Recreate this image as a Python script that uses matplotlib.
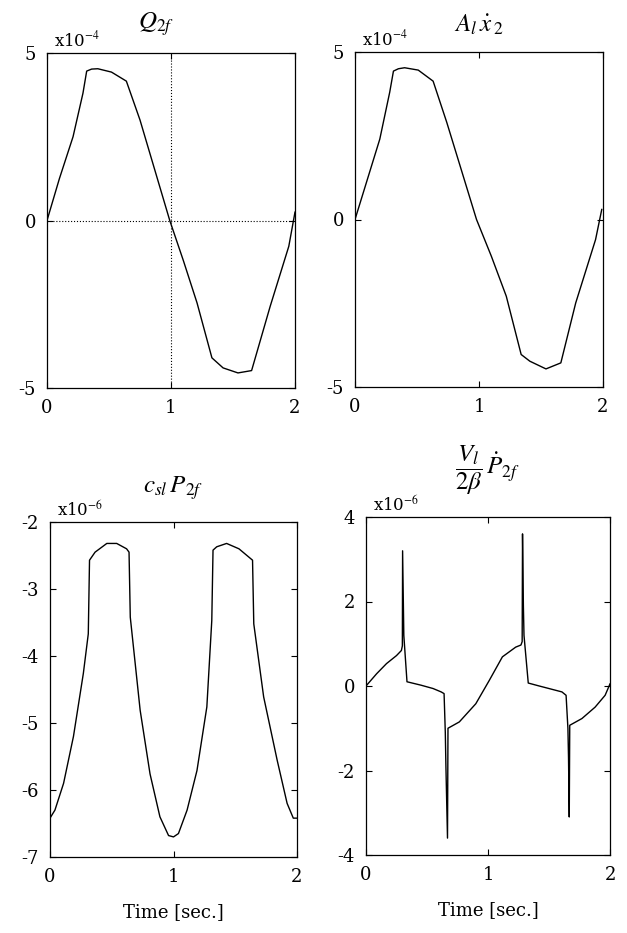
import matplotlib
matplotlib.use('Agg')
import matplotlib.pyplot as plt

plt.rcParams['font.family'] = 'DejaVu Serif'
plt.rcParams['mathtext.fontset'] = 'stix'
plt.rcParams['axes.unicode_minus'] = False

# Q_2f  (x1e-4)
t_q = [0.0, 0.1, 0.21, 0.29, 0.32, 0.36, 0.41, 0.52, 0.64, 0.75, 0.87, 0.99,
       1.1, 1.21, 1.33, 1.42, 1.54, 1.65, 1.8, 1.95, 2.0]
q2f = [0.0, 1.25, 2.5, 3.8, 4.46, 4.52, 4.53, 4.43, 4.16, 3.0, 1.5, 0.0,
       -1.2, -2.46, -4.1, -4.4, -4.55, -4.48, -2.56, -0.77, 0.25]

# A_l x2_dot  (x1e-4)
t_a = [0.0, 0.1, 0.2, 0.28, 0.31, 0.35, 0.40, 0.51, 0.63, 0.74, 0.86, 0.98,
       1.1, 1.22, 1.34, 1.41, 1.54, 1.66, 1.78, 1.94, 1.99]
ax2 = [0.0, 1.2, 2.4, 3.8, 4.43, 4.5, 4.53, 4.46, 4.13, 2.9, 1.45, 0.0,
       -1.1, -2.29, -4.03, -4.23, -4.46, -4.28, -2.49, -0.6, 0.3]

# c_sl P_2f  (x1e-6)
t_c = [0.0, 0.04, 0.11, 0.19, 0.27, 0.31, 0.32, 0.365, 0.46, 0.54, 0.62, 0.64,
       0.65, 0.73, 0.81, 0.89, 0.96, 1.0, 1.04, 1.11, 1.19, 1.27, 1.31, 1.32,
       1.35, 1.43, 1.53, 1.64, 1.65, 1.73, 1.84, 1.92, 1.97, 2.0]
cp2f = [-6.42, -6.3, -5.9, -5.2, -4.26, -3.67, -2.57, -2.45, -2.32, -2.32, -2.4, -2.45,
        -3.42, -4.81, -5.76, -6.4, -6.68, -6.7, -6.65, -6.3, -5.71, -4.76, -3.47, -2.42,
        -2.37, -2.32, -2.4, -2.57, -3.52, -4.61, -5.56, -6.2, -6.42, -6.42]

# V_l/(2 beta) P_2f_dot  (x1e-6)
t_v = [0.0, 0.087, 0.168, 0.25, 0.29, 0.298, 0.300, 0.31, 0.336, 0.45, 0.55, 0.616,
       0.64, 0.65, 0.655, 0.668, 0.672, 0.765, 0.9, 1.01, 1.118, 1.227, 1.27, 1.28,
       1.283, 1.29, 1.295, 1.33, 1.42, 1.5, 1.606, 1.64, 1.655, 1.66, 1.666, 1.67,
       1.77, 1.878, 1.96, 2.0]
vp2f = [0.0, 0.29, 0.53, 0.72, 0.84, 0.95, 3.2, 1.2, 0.1, 0.02, -0.06, -0.14,
        -0.18, -1.1, -1.9, -3.6, -1.0, -0.85, -0.42, 0.13, 0.69, 0.92, 0.97, 1.05,
        3.6, 1.9, 1.2, 0.07, 0.0, -0.06, -0.14, -0.22, -1.0, -1.7, -3.1, -0.93,
        -0.77, -0.5, -0.22, 0.05]

fig = plt.figure(figsize=(6.27, 9.33), dpi=100)

W, H = 627.0, 933.0


def make_ax(l, r, top, bot):
    return fig.add_axes([l / W, (H - bot) / H, (r - l) / W, (bot - top) / H])


axs = [make_ax(47, 295, 53, 388), make_ax(355, 603, 52, 387),
       make_ax(50, 297, 522, 857), make_ax(366, 610, 517, 855)]

series = [(t_q, q2f), (t_a, ax2), (t_c, cp2f), (t_v, vp2f)]
ylims = [(-5, 5), (-5, 5), (-7, -2), (-4, 4)]
yticks = [[-5, 0, 5], [-5, 0, 5], [-7, -6, -5, -4, -3, -2], [-4, -2, 0, 2, 4]]
mults = ['x10$^{-4}$', 'x10$^{-4}$', 'x10$^{-6}$', 'x10$^{-6}$']
titles = [r'$Q_{2f}$', r'$A_l\,\dot{x}_{\,2}$', r'$c_{sl}\,P_{2f}$',
          r'$\dfrac{V_l}{2\beta}\,\dot{P}_{2f}$']
title_x = [0.44, 0.5, 0.5, 0.5]
title_y = [1.045, 1.045, 1.06, 1.06]

for i, ax in enumerate(axs):
    t, v = series[i]
    ax.plot(t, v, color='black', linewidth=1.0)
    ax.set_xlim(0, 2)
    ax.set_ylim(*ylims[i])
    ax.set_xticks([0, 1, 2])
    ax.set_yticks(yticks[i])
    ax.tick_params(direction='in', length=4, width=0.8, labelsize=13,
                   top=True, right=True, pad=8)
    for s in ax.spines.values():
        s.set_linewidth(0.9)
    ax.text(0.03, 1.008, mults[i], transform=ax.transAxes, fontsize=12,
            ha='left', va='bottom')
    ax.text(title_x[i], title_y[i], titles[i], transform=ax.transAxes, fontsize=18,
            ha='center', va='bottom')
    if i >= 2:
        ax.set_xlabel('Time [sec.]', fontsize=13, labelpad=12)

# dotted reference lines in the first panel
axs[0].axvline(1, color='black', linestyle=':', linewidth=0.8)
axs[0].axhline(0, color='black', linestyle=':', linewidth=0.8)

fig.savefig('out.png', dpi=100)
